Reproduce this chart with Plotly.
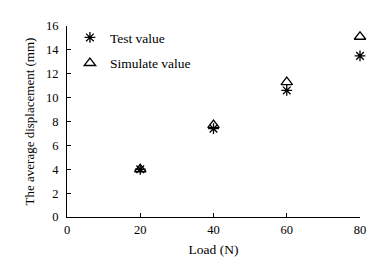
import plotly.graph_objects as go

load = [20, 40, 60, 80]
test_value = [4.0, 7.4, 10.6, 13.5]
simulate_value = [4.0, 7.7, 11.3, 15.1]

x_ticks = [0, 20, 40, 60, 80]
y_ticks = [0, 2, 4, 6, 8, 10, 12, 14, 16]

font = "Liberation Serif"

fig = go.Figure()
fig.add_trace(go.Scatter(
    x=load, y=test_value, mode="markers", name="Test value",
    legendgroup="a", cliponaxis=False,
    marker=dict(symbol="asterisk-open", size=9, color="black",
                line=dict(color="black", width=1.3)),
))
fig.add_trace(go.Scatter(
    x=load, y=simulate_value, mode="markers", name="Simulate value",
    legendgroup="b", cliponaxis=False,
    marker=dict(symbol="triangle-up-open", size=10, color="black",
                line=dict(color="black", width=1.3)),
))

# page body has an 8px margin, so the figure is sized to fit the window
fig.update_layout(
    width=378, height=258,
    margin=dict(l=59, r=26, t=18, b=49),
    paper_bgcolor="white", plot_bgcolor="white",
    font=dict(family=font, size=12, color="black"),
    showlegend=True,
    legend=dict(x=0.01, y=1.02, xanchor="left", yanchor="top",
                traceorder="grouped", tracegroupgap=5,
                bgcolor="rgba(0,0,0,0)", font=dict(size=13.5, family=font)),
    xaxis=dict(
        range=[0, 80], tickvals=x_ticks, ticks="inside", ticklen=4,
        tickcolor="black", showline=True, linecolor="black", linewidth=1,
        showgrid=False, zeroline=False, mirror=False, automargin=False,
        ticklabelstandoff=1,
        title=dict(text="Load (N)", font=dict(size=13.5, family=font), standoff=8),
        tickfont=dict(size=12.5, family=font),
    ),
    yaxis=dict(
        range=[0, 16], tickvals=y_ticks, ticks="inside", ticklen=4,
        tickcolor="black", showline=True, linecolor="black", linewidth=1,
        showgrid=False, zeroline=False, mirror=False, automargin=False,
        ticklabelstandoff=5,
        title=dict(text="The average displacement (mm)", font=dict(size=13, family=font), standoff=8),
        tickfont=dict(size=12.5, family=font),
    ),
)

fig.write_html("out.html")
